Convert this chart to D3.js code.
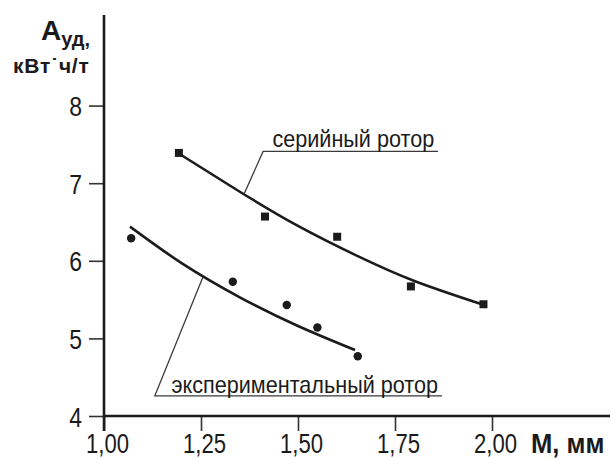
<!DOCTYPE html>
<html>
<head>
<meta charset="utf-8">
<script src="https://cdn.jsdelivr.net/npm/d3@7"></script>
<style>
  html, body { margin: 0; padding: 0; background: #fff; }
  svg { display: block; font-family: Arial, "Liberation Sans", sans-serif; }
</style>
</head>
<body>
<svg id="chart" width="610" height="459"></svg>
<script>
// ---- data ----
const xTicks = [1.00, 1.25, 1.50, 1.75, 2.00];
const yTicks = [4, 5, 6, 7, 8];

// серийный ротор – measured points (squares)
const serialX = [1.193, 1.415, 1.601, 1.791, 1.978];
const serialY = [7.39, 6.57, 6.31, 5.67, 5.44];
// экспериментальный ротор – measured points (circles)
const expX = [1.070, 1.332, 1.471, 1.550, 1.654];
const expY = [6.29, 5.73, 5.43, 5.14, 4.77];

// fitted trend curves
const serialCurveX = [1.20, 1.35, 1.50, 1.65, 1.80, 1.98];
const serialCurveY = [7.36, 6.89, 6.45, 6.07, 5.74, 5.43];
const expCurveX = [1.067, 1.20, 1.35, 1.50, 1.647];
const expCurveY = [6.44, 5.97, 5.53, 5.16, 4.85];

// labels with leader lines
const serialLabel = "серийный ротор";
const expLabel = "экспериментальный ротор";

const svg = d3.select("#chart");
const ink = "#1b1b1b";

const x = d3.scaleLinear().domain([1, 2]).range([104, 492]);
const y = d3.scaleLinear().domain([4, 8]).range([416, 105.6]);

const fmt = d => d.toFixed(2).replace(".", ",");
const SX = 0.82; // condensed look of the tick font

// x axis ticks
const gx = svg.append("g").attr("transform", `translate(0,${y(4)})`)
  .call(d3.axisBottom(x).tickValues(xTicks).tickSize(15).tickFormat(fmt));
gx.select(".domain").remove();
gx.selectAll(".tick line").attr("stroke", "#333").attr("stroke-width", 1.6);
gx.selectAll(".tick text")
  .attr("fill", ink).attr("font-size", 27).attr("y", 37).attr("dy", 0)
  .attr("font-family", "Arial, 'Liberation Sans', sans-serif")
  .attr("transform", `translate(3,0) scale(${SX},1)`);

// y axis ticks
const gy = svg.append("g").attr("transform", `translate(${x(1)},0)`)
  .call(d3.axisLeft(y).tickValues(yTicks).tickSize(15).tickFormat(d3.format("d")));
gy.select(".domain").remove();
gy.selectAll(".tick line").attr("stroke", "#333").attr("stroke-width", 1.6);
gy.selectAll(".tick text")
  .attr("fill", ink).attr("font-size", 28).attr("x", -22 / SX).attr("dy", "0.36em")
  .attr("font-family", "Arial, 'Liberation Sans', sans-serif")
  .attr("transform", `scale(${SX},1)`);

// axis lines
svg.append("line").attr("x1", x(1)).attr("x2", 610).attr("y1", y(4)).attr("y2", y(4))
  .attr("stroke", ink).attr("stroke-width", 2.6);
svg.append("line").attr("x1", x(1)).attr("x2", x(1)).attr("y1", 15).attr("y2", y(4) + 15)
  .attr("stroke", ink).attr("stroke-width", 2.6);

// trend curves
const line = d3.line().x(d => x(d[0])).y(d => y(d[1])).curve(d3.curveNatural);
svg.append("path").datum(d3.zip(serialCurveX, serialCurveY)).attr("d", line)
  .attr("fill", "none").attr("stroke", ink).attr("stroke-width", 2.6);
svg.append("path").datum(d3.zip(expCurveX, expCurveY)).attr("d", line)
  .attr("fill", "none").attr("stroke", ink).attr("stroke-width", 2.6);

// markers
svg.append("g").selectAll("path").data(d3.zip(serialX, serialY)).join("path")
  .attr("transform", d => `translate(${x(d[0])},${y(d[1])})`)
  .attr("d", d3.symbol(d3.symbolSquare, 64)).attr("fill", ink);
svg.append("g").selectAll("path").data(d3.zip(expX, expY)).join("path")
  .attr("transform", d => `translate(${x(d[0])},${y(d[1])})`)
  .attr("d", d3.symbol(d3.symbolCircle, 56)).attr("fill", ink);

// annotation: серийный ротор
const leader = "#3a3a3a";
svg.append("polyline")
  .attr("points", [[1.361, 6.86], [1.410, 7.41], [1.861, 7.41]].map(p => [x(p[0]), y(p[1])].join(",")).join(" "))
  .attr("fill", "none").attr("stroke", leader).attr("stroke-width", 1.3);
svg.append("text").attr("transform", `translate(${x(1.434)},${y(7.47)}) scale(0.94,1)`)
  .attr("font-size", 23).attr("fill", ink).text(serialLabel);

// annotation: экспериментальный ротор
svg.append("polyline")
  .attr("points", [[1.255, 5.79], [1.131, 4.26], [1.871, 4.26]].map(p => [x(p[0]), y(p[1])].join(",")).join(" "))
  .attr("fill", "none").attr("stroke", leader).attr("stroke-width", 1.3);
svg.append("text").attr("transform", `translate(${x(1.174)},${y(4.30)}) scale(0.94,1)`)
  .attr("font-size", 23).attr("fill", ink).text(expLabel);

// y axis title
const ty = svg.append("g").attr("fill", ink).attr("font-weight", "bold");
const t1 = ty.append("text").attr("x", 41).attr("y", 40).attr("font-size", 28);
t1.append("tspan").text("А");
t1.append("tspan").attr("font-size", 20).attr("dy", 6).text("уд,");
ty.append("text").attr("x", 13).attr("y", 73).attr("font-size", 21)
  .attr("letter-spacing", 0.8).text("кВт˙ч/т");

// x axis title
svg.append("text").attr("transform", `translate(531,453) scale(0.95,1)`)
  .attr("font-size", 27).attr("font-weight", "bold").attr("fill", ink).text("M, мм");
</script>
</body>
</html>
